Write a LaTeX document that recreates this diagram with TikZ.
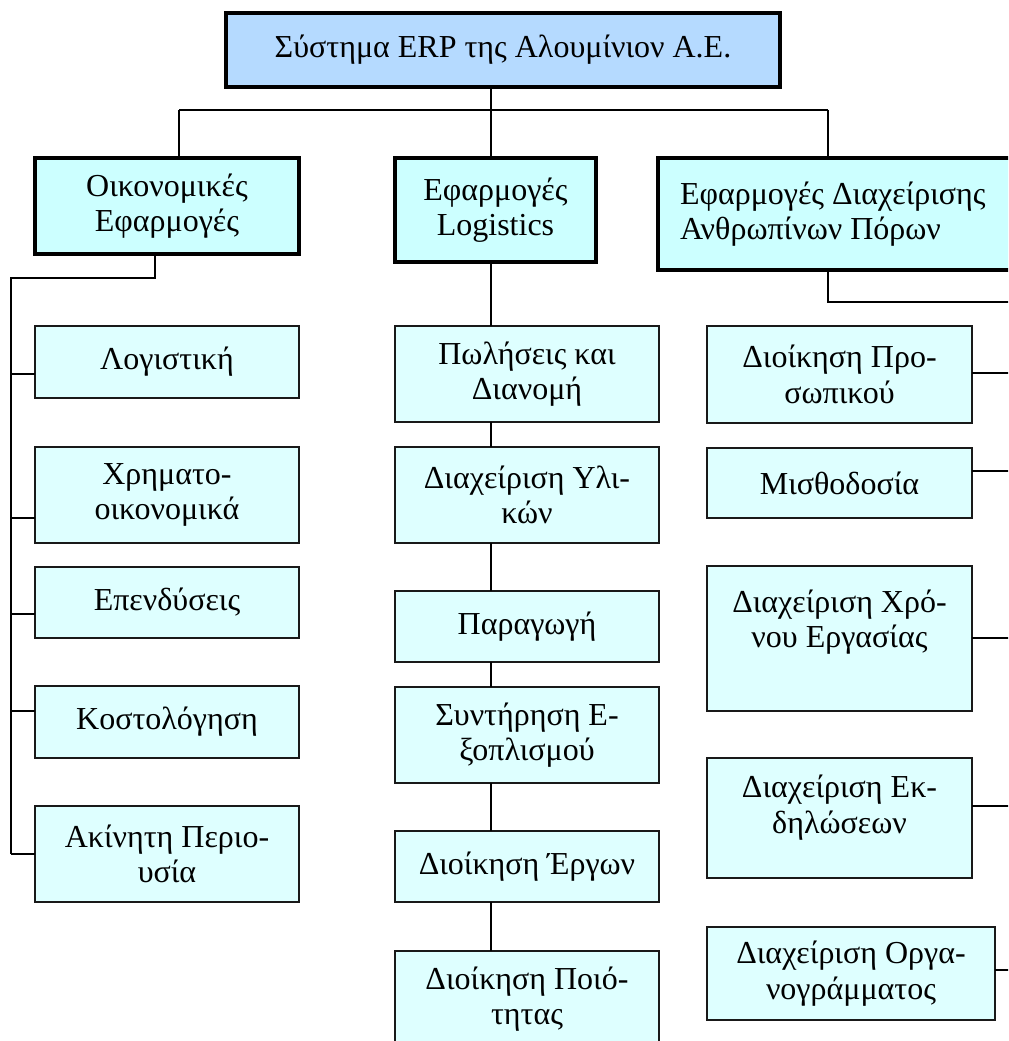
\documentclass[tikz,border=0pt]{standalone}
\usepackage{fontspec}
\setmainfont{Liberation Serif}

\definecolor{rootfill}{RGB}{181,218,255}
\definecolor{groupfill}{RGB}{204,255,255}
\definecolor{leaffill}{RGB}{222,255,255}

% one drawing unit = one pixel of the layout grid
\newlength\pxu
\setlength\pxu{0.75pt}

% \erpcell{style}{name}{x1}{y1}{x2}{y2}{vertical position c/t}{text}
\newcommand\erpcell[8]{%
  \node[#1, anchor=north west] (#2) at (#3,#4)
    {\parbox[t][\dimexpr\pxu*(#6-#4)\relax][#7]{\dimexpr\pxu*(#5-#3)\relax}{#8}};}

\begin{document}
\begin{tikzpicture}[x=0.75pt, y=-0.75pt,
  cellbase/.style={inner sep=0pt, outer sep=0pt, text=black,
    font=\fontsize{24pt}{26.5pt}\selectfont},
  rootbox/.style={cellbase, draw=black, line width=3pt, fill=rootfill},
  groupbox/.style={cellbase, draw=black, line width=3pt, fill=groupfill},
  leafbox/.style={cellbase, draw=black!90, line width=1.4pt, fill=leaffill},
  conn/.style={draw=black, line width=1.3pt}]

\path[use as bounding box] (0,0) rectangle (1008,1041);
\clip (0,0) rectangle (1008,1041);

% root and application groups
\erpcell{rootbox}{erp}{226}{13}{780}{87}{c}{\centering Σύστημα ERP της Αλουμίνιον Α.Ε.}
\erpcell{groupbox}{fin}{35}{158}{299}{254}{c}{\centering Οικονομικές\\Εφαρμογές}
\erpcell{groupbox}{logi}{395}{158}{596}{262}{c}{\centering Εφαρμογές\\Logistics}
\erpcell{groupbox}{hr}{658}{158}{1030}{270}{c}{\raggedright\leftskip=16.5pt Εφαρμογές Διαχείρισης\\Ανθρωπίνων Πόρων}

% financial modules
\erpcell{leafbox}{acc}{35}{326}{299}{398}{c}{\centering Λογιστική}
\erpcell{leafbox}{trs}{35}{447}{299}{543}{c}{\centering Χρηματο-\\οικονομικά}
\erpcell{leafbox}{inv}{35}{567}{299}{638}{c}{\centering Επενδύσεις}
\erpcell{leafbox}{cst}{35}{686}{299}{758}{c}{\centering Κοστολόγηση}
\erpcell{leafbox}{ast}{35}{806}{299}{902}{c}{\centering Ακίνητη Περιο-\\υσία}

% logistics modules
\erpcell{leafbox}{sal}{395}{326}{659}{422}{c}{\centering Πωλήσεις και\\Διανομή}
\erpcell{leafbox}{mat}{395}{447}{659}{543}{c}{\centering Διαχείριση Υλι-\\κών}
\erpcell{leafbox}{prd}{395}{591}{659}{662}{c}{\centering Παραγωγή}
\erpcell{leafbox}{mnt}{395}{687}{659}{783}{c}{\centering Συντήρηση Ε-\\ξοπλισμού}
\erpcell{leafbox}{prj}{395}{831}{659}{902}{c}{\centering Διοίκηση Έργων}
\erpcell{leafbox}{qlt}{395}{951}{659}{1047}{c}{\centering Διοίκηση Ποιό-\\τητας}

% human resources modules
\erpcell{leafbox}{per}{707}{326}{972}{423}{c}{\centering Διοίκηση Προ-\\σωπικού}
\erpcell{leafbox}{pay}{707}{448}{972}{518}{c}{\centering Μισθοδοσία}
\erpcell{leafbox}{tim}{707}{566}{972}{711}{t}{\centering\vspace*{18pt}Διαχείριση Χρό-\\νου Εργασίας}
\erpcell{leafbox}{evt}{707}{758}{972}{878}{t}{\centering\vspace*{13pt}Διαχείριση Εκ-\\δηλώσεων}
\erpcell{leafbox}{org}{707}{927}{995}{1020}{c}{\centering Διαχείριση Οργα-\\νογράμματος}

% top level bus
\coordinate (jL) at (179,110);
\coordinate (jM) at (491,110);
\coordinate (jR) at (828,110);
\draw[conn] (erp.south -| jM) -- (jM);
\draw[conn] (jL) -- (jR);
\draw[conn] (jL) -- (fin.north -| jL);
\draw[conn] (jM) -- (logi.north -| jM);
\draw[conn] (jR) -- (hr.north -| jR);

% financial branch
\coordinate (fK) at (155,278);
\coordinate (fB) at (11,278);
\coordinate (fE) at (11,854);
\draw[conn] (fin.south -| fK) -- (fK) -- (fB) -- (fE);
\foreach \n/\y in {acc/374, trs/518, inv/614, cst/711, ast/854}{
  \coordinate (fb-\n) at (11,\y);
  \draw[conn] (fb-\n) -- (fb-\n -| \n.west);
}

% logistics chain
\foreach \a/\b in {logi/sal, sal/mat, mat/prd, prd/mnt, mnt/prj, prj/qlt}
  \draw[conn] (\a.south -| jM) -- (\b.north -| jM);

% human resources branch
\coordinate (hK) at (828,302);
\coordinate (hB) at (1012,302);
\draw[conn] (hr.south -| hK) -- (hK) -- (hB);
\foreach \n/\y in {per/373, pay/471, tim/638, evt/806, org/970}{
  \coordinate (hb-\n) at (1012,\y);
  \draw[conn] (hb-\n -| \n.east) -- (hb-\n);
}
\end{tikzpicture}
\end{document}
